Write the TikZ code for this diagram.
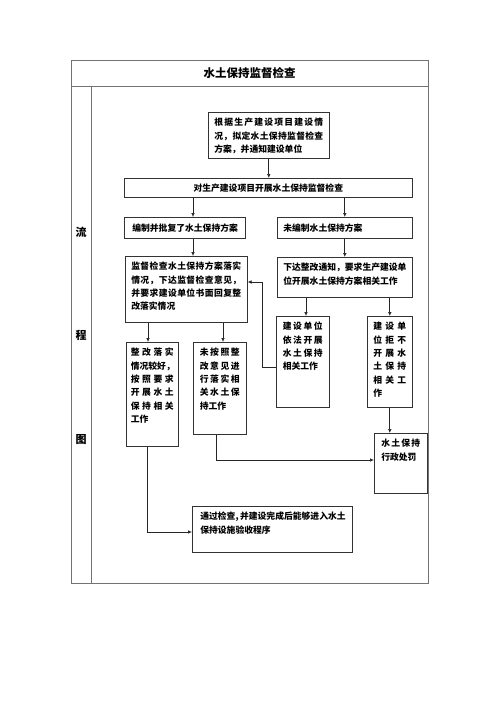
\documentclass[tikz,border=0pt]{standalone}
\usepackage{fontspec}
\setmainfont{Noto Sans CJK SC}
\usetikzlibrary{arrows.meta,shadows,calc}
\newcommand\spl[1]{\leavevmode\hbox to\linewidth{\splx#1\relax}}
\def\splx#1{\ifx#1\relax\else#1\expandafter\splnext\fi}
\def\splnext#1{\ifx#1\relax\else\hfil#1\expandafter\splnext\fi}
\newcommand\bx[4]{\parbox[c][#2pt][t]{#1pt}{\vspace*{4pt}\hspace*{#4pt}\parbox[t]{\dimexpr#1pt-#4pt-#4pt\relax}{\raggedright\strut#3}}}
\newcommand\lbx[4]{\parbox[c][#2pt][c]{#1pt}{\hspace*{#3pt}#4}}
\begin{document}
\begin{tikzpicture}[x=1pt,y=-1pt,
 box/.style={draw=black!80, line width=0.6pt, fill=white, inner sep=0pt, anchor=north west,
   drop shadow={shadow xshift=0.7pt, shadow yshift=-0.7pt, opacity=1, fill=black!55},
   font=\fontsize{8.8pt}{13.4pt}\selectfont\bfseries},
 frame/.style={draw=black!55, line width=0.6pt},
 conn/.style={draw=black!85, line width=0.7pt},
 arr/.style={conn, -{Latex[length=4pt,width=3.6pt]}},
 lab/.style={font=\fontsize{11pt}{13pt}\selectfont\bfseries, inner sep=0pt}]
\path[use as bounding box, fill=white] (0,0) rectangle (500,707);
\node[frame, draw, rectangle, minimum width=357pt, minimum height=523pt, anchor=north west, inner sep=0pt] (outer) at (71,60) {};
\coordinate (hl) at (71,86.7);
\draw[frame] (hl) -- (hl -| outer.east);
\coordinate (divtop) at (91,86.7);
\draw[frame] (divtop) -- (divtop |- outer.south);
\node[lab, font=\fontsize{11.5pt}{13pt}\selectfont\bfseries] (title) at (249.5,73.5) {水土保持监督检查};
\node[lab] (l1) at (81,232) {流};
\node[lab] (l2) at (81,335) {程};
\node[lab] (l3) at (81,440) {图};

\node[box] (b1) at (208,112) {\bx{121}{46}{\spl{根据生产建设项目建设情}\\\spl{况，拟定水土保持监督检查}\\方案，并通知建设单位}{6}};
\node[box] (b2) at (124,178) {\parbox[c][19pt][c]{288pt}{\centering 对生产建设项目开展水土保持监督检查}};
\node[box] (b3) at (124,217) {\lbx{121}{21}{8}{编制并批复了水土保持方案}};
\node[box] (b4) at (277,217) {\lbx{135}{21}{6}{未编制水土保持方案}};
\node[box] (b5) at (125,256) {\bx{122}{66}{\spl{监督检查水土保持方案落实}\\\spl{情况，下达监督检查意见，}\\\spl{并要求建设单位书面回复整}\\改落实情况}{6}};
\node[box] (b6) at (277,257) {\bx{135}{40}{\spl{下达整改通知，要求生产建设单}\\位开展水土保持方案相关工作}{6}};
\node[box] (b7) at (276,316) {\bx{53}{91}{\spl{建设单位}\\\spl{依法开展}\\\spl{水土保持}\\相关工作}{6.5}};
\node[box] (b8) at (367,316) {\bx{45}{91}{\spl{建设单}\\\spl{位拒不}\\\spl{开展水}\\\spl{土保持}\\\spl{相关工}\\作}{6}};
\node[box] (b9) at (126,342) {\bx{52}{104}{\spl{整改落实}\\\spl{情况较好，}\\\spl{按照要求}\\\spl{开展水土}\\\spl{保持相关}\\工作}{4.5}};
\node[box] (b10) at (193,342) {\bx{53}{92}{\spl{未按照整}\\\spl{改意见进}\\\spl{行落实相}\\\spl{关水土保}\\持工作}{6.5}};
\node[box] (b11) at (374,433) {\bx{53}{60}{\spl{水土保持}\\行政处罚}{7}};
\node[box] (b12) at (192,506) {\bx{160}{46}{\mbox{通过检查,\hspace{1.5pt}并建设完成后能够进入水土}\\保持设施验收程序}{8}};

\draw[arr] (b1.south) -- (b1.south |- b2.north);
\coordinate (xa) at (193,0);
\draw[arr] (b2.south -| xa) -- (b3.north -| xa);
\draw[arr] (b2.south -| b4.north) -- (b4.north);
\draw[arr] (b3.south -| xa) -- (b5.north -| xa);
\draw[arr] (b4.south) -- (b4.south |- b6.north);
\coordinate (xb) at (306,0);
\draw[arr] (b6.south -| xb) -- (b7.north -| xb);
\draw[arr] (b6.south -| b8.north) -- (b8.north);
\coordinate (xc) at (148,0);
\draw[arr] (b5.south -| xc) -- (b9.north -| xc);
\coordinate (xd) at (223,0);
\draw[arr] (b5.south -| xd) -- (b10.north -| xd);
\coordinate (ya) at (262,367);
\coordinate (yb) at (262,282);
\draw[arr] (b7.west |- ya) -- (ya) -- (yb) -- (b5.east |- yb);
\draw[arr] (b8.south) -- (b8.south |- b11.north);
\coordinate (yc) at (216,460);
\draw[arr] (b10.south -| yc) -- (yc) -- (b11.west |- yc);
\coordinate (yd) at (147,532);
\draw[arr] (b9.south -| yd) -- (yd) -- (b12.west |- yd);
\end{tikzpicture}
\end{document}
